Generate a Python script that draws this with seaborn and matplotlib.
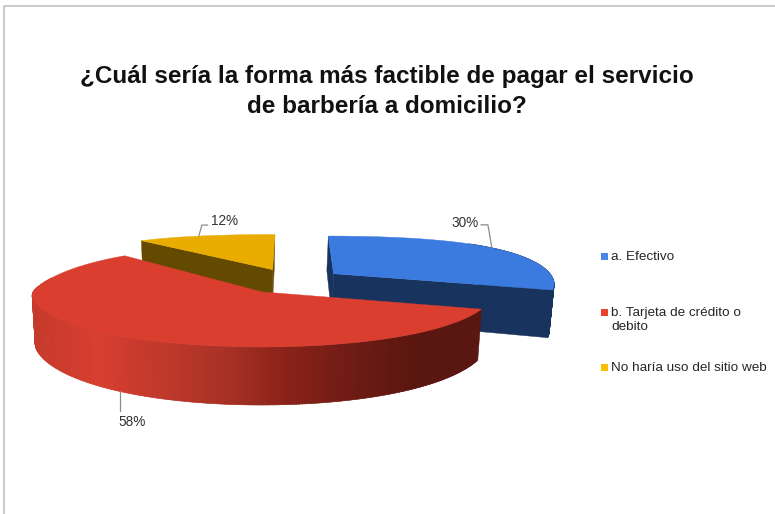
import numpy as np
import matplotlib
matplotlib.use("Agg")
import matplotlib.pyplot as plt
from matplotlib.patches import Rectangle
import seaborn as sns

# Survey results
categories = ["a. Efectivo", "b. Tarjeta de crédito o\ndebito", "No haría uso del sitio web"]
shares = [30, 58, 12]
title_lines = "¿Cuál sería la forma más factible de pagar el servicio\nde barbería a domicilio?"

# Slice colours: top face, cut-face shade, legend key
top_colors = ["#3B7BE0", "#D93E2F", "#E9AC00"]
side_colors = ["#19335F", "#5A1610", "#644A00"]
key_colors = ["#4A86E8", "#E8432F", "#FBBC05"]
wall_ramp = ["#C63A2C", "#D83F2F", "#C0392B", "#A93226", "#8A2219", "#6E1C15", "#5A1610", "#5A1610"]

# Projection of the tilted disc onto the page
CX, CY, RX, RY = 291.5, 281.0, 231.0, 52.7
EXPLODE = 0.24


def scale_x(v):
    # Softplus keeps the foreshortening smooth where the disc starts to recede
    w = 0.05 * np.log1p(np.exp((v + 0.19) / 0.05))
    return 1 - 0.1 * (np.sqrt(w + 0.03) - np.sqrt(0.03)) - 0.06 * w


def scale_y(v):
    return 1 - 0.13 * v - 0.08 * v ** 2


def depth(v):
    return 46 - 10 * v


def project(u, v, lowered=False):
    x = CX + RX * u * scale_x(v)
    y = CY - RY * v * scale_y(v)
    if lowered:
        x = x + 0.015 * (CX - 60 - x)
        y = y + depth(v)
    return np.array([x, y])


def slice_point(theta, mid, radius=1.0, lowered=False):
    t, m = np.radians(theta), np.radians(mid)
    u = radius * np.sin(t) + EXPLODE * np.sin(m)
    v = radius * np.cos(t) + EXPLODE * np.cos(m)
    return project(u, v, lowered)


sns.set_theme(style="white")
plt.rcParams["font.family"] = ["Liberation Sans", "DejaVu Sans"]

fig = plt.figure(figsize=(7.75, 5.14), dpi=100, facecolor="white")
ax = fig.add_axes([0, 0, 1, 1])
ax.set_xlim(0, 775)
ax.set_ylim(514, 0)
ax.axis("off")

# Thin page frame along the top and left
ax.plot([3.5, 3.5, 775], [514, 5.5, 5.5], color="#BDBDBD", lw=1.1, zorder=1)

edges = np.cumsum([0] + shares) * 3.6
mids = (edges[:-1] + edges[1:]) / 2
ramp = sns.blend_palette(wall_ramp, 256)


def wall(a, mid, color, z):
    p = [slice_point(a, mid, 0), slice_point(a, mid),
         slice_point(a, mid, lowered=True), slice_point(a, mid, 0, True)]
    ax.fill(*zip(*p), color=color, lw=0.3, zorder=z)


def outer_wall(a, b, mid, color_fn, z, step=0.75):
    for t0 in np.arange(a, b, step):
        t1 = t0 + step + 0.3
        p = [slice_point(t0, mid), slice_point(t1, mid),
             slice_point(t1, mid, lowered=True), slice_point(t0, mid, lowered=True)]
        ax.fill(*zip(*p), color=color_fn(p[0][0]), lw=0.4, zorder=z)


def top_face(a, b, mid, color, z):
    arc = [slice_point(t, mid) for t in np.linspace(a, b, 160)]
    p = [slice_point(a, mid, 0)] + arc
    ax.fill(*zip(*p), color=color, lw=0.3, zorder=z)


# Yellow slice at the back
ya, yb, ym = edges[2], edges[3], mids[2]
wall(yb, ym, side_colors[2], 2)
wall(ya, ym, side_colors[2], 2)
top_face(ya, yb, ym, top_colors[2], 3)

# Blue slice on the right
ba, bb, bm = edges[0], edges[1], mids[0]
wall(ba, bm, side_colors[0], 2)
outer_wall(ba + 45, bb, bm, lambda x: side_colors[0], 2)
wall(bb, bm, side_colors[0], 3)
top_face(ba, bb, bm, top_colors[0], 4)

# Red slice in front, its rim shaded from left to right
ra, rb, rm = edges[1], edges[2], mids[1]
left = slice_point(270, rm)[0]
right = slice_point(ra, rm)[0]
outer_wall(ra, 285, rm,
           lambda x: ramp[int(np.clip((x - left) / (right - left), 0, 1) * 255)], 5)
top_face(ra, rb, rm, top_colors[1], 6)

# Percentage labels with elbow leaders
leader_shift = [0, 6, -2]
label_style = dict(fontsize=9.8, color="#333333", va="center", ha="center", zorder=8)
leader_style = dict(color="#8C8C8C", lw=0.9, zorder=7)

p = slice_point(mids[0] + leader_shift[0], mids[0])
ax.plot([p[0] - 11, p[0] - 4, p[0]], [p[1] - 23, p[1] - 23, p[1]], **leader_style)
ax.text(p[0] - 27, p[1] - 25, f"{shares[0]}%", **label_style)

p = slice_point(mids[1] + leader_shift[1], mids[1], lowered=True)
ax.plot([p[0], p[0]], [p[1], p[1] + 20], **leader_style)
ax.text(p[0] + 12, p[1] + 31, f"{shares[1]}%", **label_style)

p = slice_point(mids[2] + leader_shift[2], mids[2])
ax.plot([p[0], p[0] + 3, p[0] + 9], [p[1], p[1] - 11, p[1] - 11], **leader_style)
ax.text(p[0] + 26, p[1] - 15, f"{shares[2]}%", **label_style)

# Title
ax.text(387, 91.5, title_lines, fontsize=17.5, fontweight="bold", color="#111111",
        ha="center", va="center", linespacing=1.38, zorder=8)

# Legend keys and texts
key_y = [256.5, 312, 367]
for name, col, y in zip(categories, key_colors, key_y):
    ax.add_patch(Rectangle((600.7, y - 3.5), 7, 7, facecolor=col, edgecolor="none", zorder=8))
    ax.text(611, y - 5, name, fontsize=9.7, color="#262626", ha="left", va="top",
            linespacing=1.2, zorder=8)

fig.savefig("out.png", dpi=100, facecolor="white")
